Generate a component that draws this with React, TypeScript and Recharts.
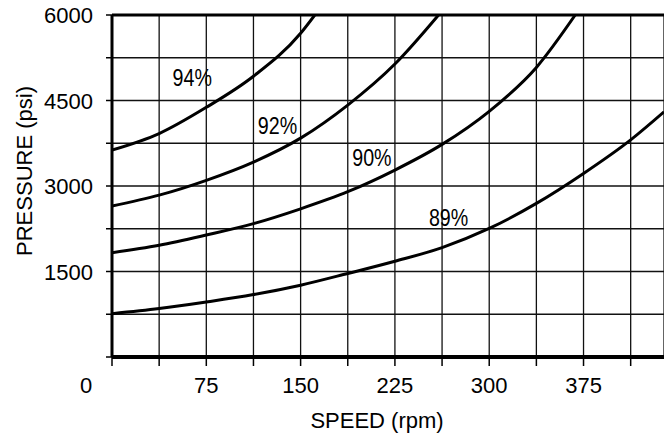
import React from 'react';
import {
  LineChart,
  Line,
  XAxis,
  YAxis,
  CartesianGrid,
  ReferenceLine,
  ReferenceDot,
} from 'recharts';

// speed (rpm) grid steps and pressure (psi) grid steps
const speedTicks = [0, 37.5, 75, 112.5, 150, 187.5, 225, 262.5, 300, 337.5, 375, 412.5];
const speedLabels = [0, 75, 150, 225, 300, 375];
const pressureTicks = [0, 750, 1500, 2250, 3000, 3750, 4500, 5250, 6000];
const pressureLabels = [1500, 3000, 4500, 6000];

// efficiency curves
const speed94 = [0, 37.5, 75, 112.5, 150, 161.3];
const pressure94 = [3630, 3920, 4380, 4925, 5679, 6000];

const speed92 = [0, 37.5, 75, 112.5, 150, 187.5, 225, 259.7];
const pressure92 = [2650, 2840, 3100, 3420, 3840, 4420, 5140, 6000];

const speed90 = [0, 37.5, 75, 112.5, 150, 187.5, 225, 262.5, 300, 337.5, 368.4];
const pressure90 = [1830, 1960, 2140, 2340, 2600, 2900, 3280, 3730, 4310, 5080, 6000];

const speed89 = [0, 37.5, 75, 112.5, 150, 187.5, 225, 262.5, 300, 337.5, 375, 412.5, 439];
const pressure89 = [760, 850, 965, 1095, 1260, 1465, 1680, 1920, 2255, 2695, 3221, 3810, 4302];

const curveNames = ['94%', '92%', '90%', '89%'];
const labelSpeed = [63.8, 131.6, 206.7, 267.7];
const labelPressure = [4908, 4067, 3494, 2453];

const toPoints = (s: number[], p: number[]) => s.map((v, i) => ({ speed: v, pressure: p[i] }));
const series = [
  toPoints(speed94, pressure94),
  toPoints(speed92, pressure92),
  toPoints(speed90, pressure90),
  toPoints(speed89, pressure89),
];

const FONT = '"Liberation Sans", Arial, Helvetica, sans-serif';

const XTick = (props: any) => {
  const { x, y, payload } = props;
  const v = payload.value;
  if (!speedLabels.includes(v)) return null;
  return (
    <text x={v === 0 ? x - 26 : x} y={y + 16} textAnchor="middle" fontFamily={FONT} fontSize={22} fill="#000">
      {v}
    </text>
  );
};

const YTick = (props: any) => {
  const { x, y, payload } = props;
  if (!pressureLabels.includes(payload.value)) return null;
  return (
    <text x={x} y={y + 8} textAnchor="end" fontFamily={FONT} fontSize={22} fill="#000">
      {payload.value}
    </text>
  );
};

const CurveLabel = (text: string) => (props: any) => {
  const { viewBox } = props;
  const cx = viewBox.x + (viewBox.width || 0) / 2;
  const cy = viewBox.y + (viewBox.height || 0) / 2;
  return (
    <text
      transform={`translate(${cx},${cy + 8.6}) scale(0.82,1)`}
      textAnchor="middle"
      fontFamily={FONT}
      fontSize={24}
      fill="#000"
    >
      {text}
    </text>
  );
};

export default function App() {
  return (
    <div style={{ position: 'absolute', left: 0, top: 0, width: 664, height: 438, background: '#fff' }}>
      <LineChart width={664} height={438} margin={{ top: 15, right: 0, bottom: 0, left: 0 }}>
        <CartesianGrid stroke="#111" strokeWidth={1.3} />
        <XAxis
          type="number"
          dataKey="speed"
          domain={[0, 439]}
          allowDataOverflow
          ticks={speedTicks}
          interval={0}
          height={81}
          tickSize={9}
          tickMargin={11}
          axisLine={{ stroke: '#000', strokeWidth: 4 }}
          tickLine={{ stroke: '#000', strokeWidth: 1.5 }}
          tick={<XTick />}
        />
        <YAxis
          type="number"
          dataKey="pressure"
          domain={[0, 6000]}
          allowDataOverflow
          ticks={pressureTicks}
          interval={0}
          width={112}
          tickSize={6}
          tickMargin={13}
          axisLine={{ stroke: '#000', strokeWidth: 3 }}
          tickLine={{ stroke: '#000', strokeWidth: 1.5 }}
          tick={<YTick />}
        />
        <ReferenceLine y={6000} stroke="#000" strokeWidth={3} />
        {series.map((d, i) => (
          <Line
            key={curveNames[i]}
            data={d}
            dataKey="pressure"
            type="monotone"
            stroke="#000"
            strokeWidth={3}
            dot={false}
            activeDot={false}
            isAnimationActive={false}
          />
        ))}
        {curveNames.map((name, i) => (
          <ReferenceDot
            key={name}
            x={labelSpeed[i]}
            y={labelPressure[i]}
            r={0}
            stroke="none"
            fill="none"
            label={{ content: CurveLabel(name) }}
          />
        ))}
        <text transform="translate(32,171) rotate(-90)" textAnchor="middle" fontFamily={FONT} fontSize={22} fill="#000">
          PRESSURE (psi)
        </text>
        <text x={377} y={428} textAnchor="middle" fontFamily={FONT} fontSize={22} fill="#000">
          SPEED (rpm)
        </text>
      </LineChart>
    </div>
  );
}
